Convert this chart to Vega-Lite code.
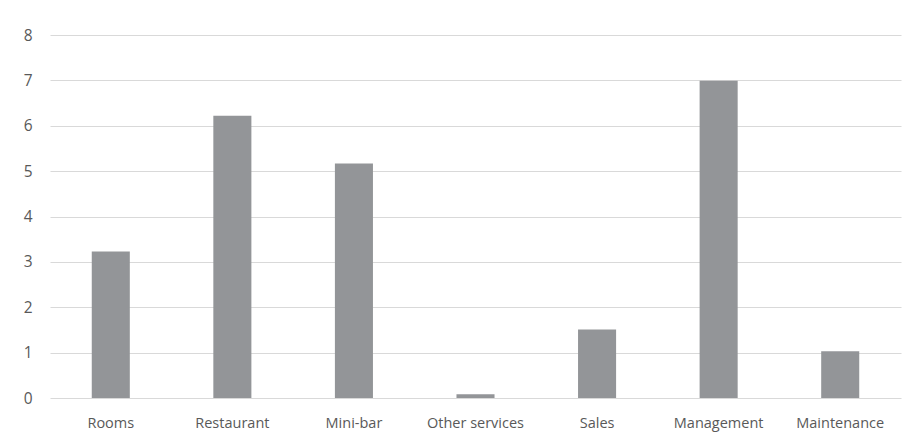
{
  "$schema": "https://vega.github.io/schema/vega-lite/v6.json",
  "autosize": {"type": "none"},
  "width": 851,
  "height": 363,
  "padding": {"left": 50, "top": 35, "right": 15, "bottom": 43},
  "background": "white",
  "config": {"view": {"stroke": null}, "font": "Open Sans"},
  "data": {
    "values": [
      {"department": "Rooms", "value": 3.23},
      {"department": "Restaurant", "value": 6.22},
      {"department": "Mini-bar", "value": 5.17},
      {"department": "Other services", "value": 0.08},
      {"department": "Sales", "value": 1.51},
      {"department": "Management", "value": 6.99},
      {"department": "Maintenance", "value": 1.03}
    ]
  },
  "mark": {"type": "bar", "color": "#939598"},
  "encoding": {
    "x": {
      "field": "department",
      "type": "nominal",
      "sort": null,
      "scale": {"paddingInner": 0.687, "paddingOuter": 0.3435},
      "axis": {
        "title": null,
        "labelAngle": 0,
        "domain": false,
        "ticks": false,
        "labelPadding": 18,
        "labelFontSize": 14.5,
        "labelColor": "#595959",
        "labelFont": "Open Sans"
      }
    },
    "y": {
      "field": "value",
      "type": "quantitative",
      "scale": {"domain": [0, 8], "nice": false},
      "axis": {
        "title": null,
        "values": [0, 1, 2, 3, 4, 5, 6, 7, 8],
        "labelOverlap": false,
        "domain": false,
        "ticks": false,
        "grid": true,
        "gridColor": "#d9d9d9",
        "gridWidth": 1,
        "labelPadding": 18,
        "labelFontSize": 15.5,
        "labelColor": "#595959",
        "labelFont": "Open Sans"
      }
    }
  }
}
